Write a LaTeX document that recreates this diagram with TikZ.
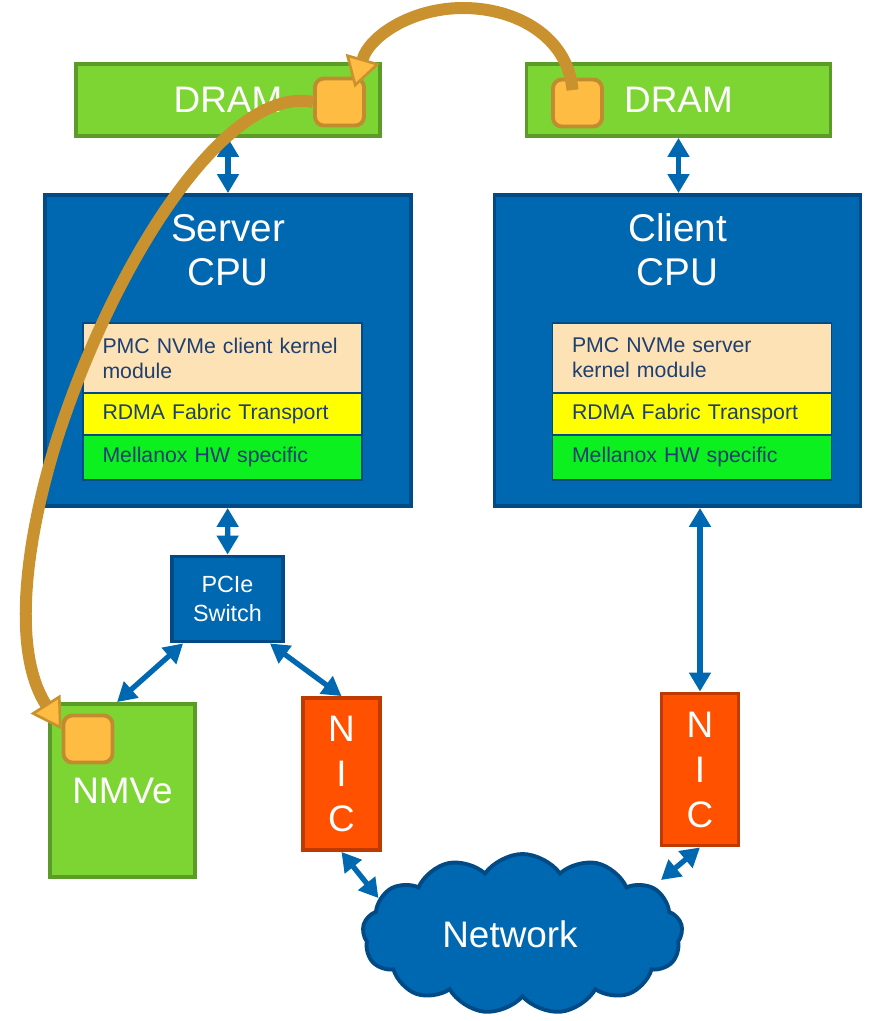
\documentclass[tikz,border=0pt]{standalone}
\usepackage{fontspec}
\setmainfont{Liberation Sans}
\usetikzlibrary{arrows.meta,shapes.symbols}

\definecolor{cpublue}{HTML}{0067B1}
\definecolor{cpuedge}{HTML}{004A85}
\definecolor{dramgreen}{HTML}{7DD534}
\definecolor{dramedge}{HTML}{5B9B27}
\definecolor{peach}{HTML}{FDE2B6}
\definecolor{stackyellow}{HTML}{FFFF00}
\definecolor{stackgreen}{HTML}{0DF020}
\definecolor{stacktext}{HTML}{1F3F70}
\definecolor{nicorange}{HTML}{FF5100}
\definecolor{nicedge}{HTML}{BF3A00}
\definecolor{bufffill}{HTML}{FFBC42}
\definecolor{buffedge}{HTML}{C08C30}
\definecolor{flowgold}{HTML}{C9922F}

\begin{document}
\begin{tikzpicture}[
  box/.style={line width=2.2pt, text=white},
  dram/.style={box, draw=dramedge, fill=dramgreen, minimum width=6.08cm, minimum height=1.44cm, font=\fontsize{21}{25}\selectfont},
  cpu/.style={box, draw=cpuedge, fill=cpublue, minimum width=7.32cm, minimum height=6.22cm},
  cpulabel/.style={text=white, align=center, font=\fontsize{22}{25}\selectfont},
  layer/.style={draw=cpuedge, line width=0.7pt, minimum width=5.58cm, text width=4.8cm, inner xsep=0.39cm, align=left, text=stacktext, font=\fontsize{12.1}{14.2}\selectfont},
  buffer/.style={draw=buffedge, fill=bufffill, line width=2.2pt, rounded corners=5pt, minimum width=0.98cm, minimum height=0.94cm},
  nic/.style={box, draw=nicedge, fill=nicorange, minimum width=1.54cm, minimum height=3.04cm, align=center, font=\fontsize{21}{25.6}\selectfont},
  link/.style={cpublue, line width=3pt, {Triangle[length=0.38cm,width=0.42cm]}-{Triangle[length=0.38cm,width=0.42cm]}},
  flow/.style={flowgold, line width=0.24cm, -{Triangle[length=0.6cm,width=0.7cm,line width=1.5pt,fill=bufffill]}}
]
  \useasboundingbox (0,0) rectangle (17.4,-20.42);

  % memories
  \node[dram] (dramS) at (4.56,-2.0) {DRAM};
  \node[dram] (dramC) at (13.57,-2.0) {DRAM};
  \node[buffer] (bufS) at (6.79,-2.04) {};
  \node[buffer] (bufC) at (11.55,-2.06) {};

  % hosts
  \node[cpu] (server) at (4.56,-7.01) {};
  \node[cpu] (client) at (13.55,-7.01) {};
  \node[cpulabel] (serverlbl) at (4.56,-5.0) {Server\\CPU};
  \node[cpulabel] (clientlbl) at (13.55,-5.0) {Client\\CPU};

  % software stacks
  \foreach \side/\x/\role in {S/4.45/{client kernel\\module}, C/13.84/{server\\kernel module}} {
    \node[layer, fill=peach, minimum height=1.4cm] (mod\side) at (\x,-7.16) {PMC NVMe \role};
    \node[layer, fill=stackyellow, minimum height=0.84cm] (rdma\side) at (\x,-8.28) {RDMA Fabric Transport};
    \node[layer, fill=stackgreen, minimum height=0.9cm] (hw\side) at (\x,-9.15) {Mellanox HW specific};
  }

  % server side devices
  \node[box, draw=cpuedge, fill=cpublue, minimum width=2.22cm, minimum height=1.7cm, align=center, font=\fontsize{13.3}{16.5}\selectfont] (pcie) at (4.55,-11.98) {PCIe\\Switch};
  \node[box, draw=dramedge, fill=dramgreen, minimum width=2.9cm, minimum height=3.46cm, font=\fontsize{21}{25}\selectfont] (nmve) at (2.45,-15.81) {NMVe};
  \node[buffer] (bufN) at (1.76,-14.78) {};
  \node[nic] (nicS) at (6.83,-15.48) {N\\I\\C};
  \node[nic] (nicC) at (14.0,-15.39) {N\\I\\C};

  % fabric
  \node[cloud, cloud puffs=13, cloud puff arc=110, aspect=2, box, draw=cpuedge, fill=cpublue, minimum width=6.4cm, minimum height=3.2cm, font=\fontsize{21}{25}\selectfont] (net) at (10.45,-18.68) {\hspace*{-0.5cm}Network};
  \coordinate (netNE) at (13.22,-17.6);

  % links
  \draw[link] (dramS) -- (server);
  \draw[link] (dramC.south) -- (dramC.south |- client.north);
  \draw[link] (server) -- (pcie);
  \draw[link] (nicC.north |- client.south) -- (nicC);
  \draw[link] ([xshift=0.26cm]pcie.south west) -- ([xshift=1.38cm]nmve.north west);
  \draw[link] ([xshift=-0.3cm]pcie.south east) -- (nicS.north);
  \draw[link] (nicS.south) -- (net.166);
  \draw[link] (nicC.south) -- (netNE);

  % data movement
  \coordinate (arcTop) at (9.26,-0.16);
  \draw[flow] ([xshift=-0.1cm,yshift=-0.25cm]bufC.north) to[out=95,in=0] (arcTop) to[out=180,in=74] ([xshift=0.3cm,yshift=-0.22cm]bufS.north);
  \draw[flow] (bufS.west) .. controls (4.6,-1.7) and (2.4,-5.0) .. (1.2,-8.6) .. controls (0.7,-10.1) and (0.1,-12.8) .. (bufN.160);
\end{tikzpicture}
\end{document}
